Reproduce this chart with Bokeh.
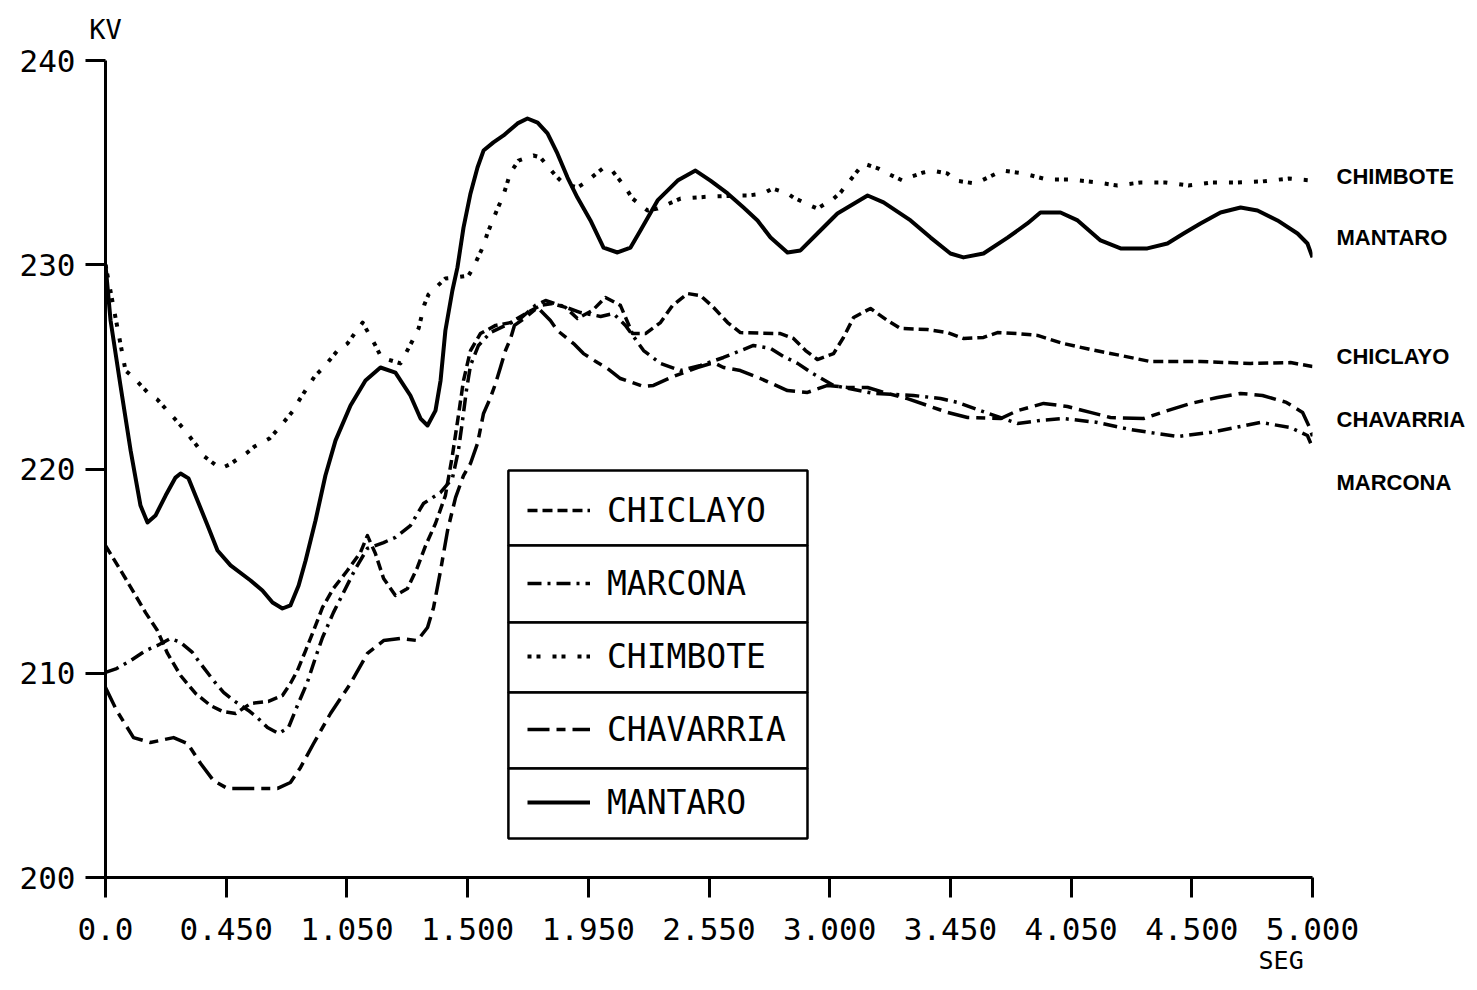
from bokeh.plotting import figure
from bokeh.models import Range1d, FixedTicker, LinearAxis, Legend, LegendItem, BoxAnnotation
from bokeh.embed import file_html
from bokeh.resources import INLINE

# ---------------- data (seconds, kV) ----------------
t_mantaro = [0.0, 0.021, 0.062, 0.104, 0.145, 0.174, 0.207, 0.249, 0.290, 0.311, 0.344, 0.381, 0.423, 0.464,
             0.518, 0.601, 0.650, 0.692, 0.733, 0.766, 0.800, 0.829, 0.870, 0.911, 0.953, 1.015, 1.077, 1.139,
             1.201, 1.263, 1.305, 1.334, 1.367, 1.388, 1.408, 1.437, 1.458, 1.483, 1.512, 1.541, 1.566, 1.607,
             1.649, 1.707, 1.748, 1.790, 1.831, 1.872, 1.914, 1.955, 2.009, 2.063, 2.121, 2.175, 2.216, 2.287,
             2.370, 2.444, 2.506, 2.577, 2.643, 2.701, 2.755, 2.825, 2.879, 2.949, 3.032, 3.157, 3.223, 3.335,
             3.418, 3.500, 3.554, 3.637, 3.737, 3.819, 3.873, 3.956, 4.027, 4.122, 4.205, 4.316, 4.399, 4.466,
             4.536, 4.619, 4.702, 4.772, 4.855, 4.938, 4.979, 5.0]
kv_mantaro = [230.0, 227.27, 224.09, 220.91, 218.21, 217.38, 217.72, 218.70, 219.58, 219.78, 219.54, 218.46,
              217.23, 216.01, 215.28, 214.54, 214.05, 213.46, 213.17, 213.32, 214.30, 215.52, 217.48, 219.68,
              221.40, 223.11, 224.33, 224.97, 224.72, 223.60, 222.47, 222.13, 222.86, 224.33, 226.78, 228.74,
              229.87, 231.82, 233.49, 234.76, 235.59, 235.99, 236.33, 236.92, 237.16, 236.96, 236.43, 235.45,
              234.27, 233.29, 232.17, 230.84, 230.60, 230.84, 231.68, 233.15, 234.12, 234.61, 234.12, 233.49,
              232.80, 232.17, 231.33, 230.60, 230.70, 231.53, 232.51, 233.39, 233.05, 232.17, 231.33, 230.55,
              230.36, 230.55, 231.33, 232.02, 232.56, 232.56, 232.17, 231.19, 230.80, 230.80, 231.04, 231.53,
              232.02, 232.56, 232.80, 232.66, 232.17, 231.53, 231.04, 230.36]

t_chimbote = [0.0, 0.083, 0.116, 0.178, 0.215, 0.282, 0.319, 0.381, 0.410, 0.476, 0.514, 0.588, 0.617, 0.679,
              0.713, 0.775, 0.804, 0.866, 0.903, 0.965, 1.002, 1.065, 1.118, 1.143, 1.222, 1.272, 1.297, 1.321,
              1.338, 1.408, 1.450, 1.504, 1.524, 1.566, 1.582, 1.624, 1.645, 1.678, 1.711, 1.773, 1.802, 1.864,
              1.897, 1.955, 1.988, 2.059, 2.092, 2.154, 2.183, 2.245, 2.287, 2.382, 2.506, 2.639, 2.664, 2.726,
              2.763, 2.825, 2.850, 2.920, 2.949, 3.016, 3.045, 3.107, 3.140, 3.202, 3.239, 3.302, 3.326, 3.389,
              3.426, 3.488, 3.521, 3.604, 3.716, 3.803, 3.902, 3.997, 4.109, 4.192, 4.288, 4.391, 4.486, 4.586,
              4.689, 4.793, 4.901, 5.0]
kv_chimbote = [230.0, 224.82, 224.48, 223.70, 223.40, 222.52, 222.03, 221.10, 220.61, 220.02, 220.22, 220.81,
               221.10, 221.49, 221.93, 222.82, 223.40, 224.53, 224.97, 225.85, 226.14, 227.17, 226.05, 225.46,
               225.17, 226.29, 226.88, 228.05, 228.54, 229.33, 229.38, 229.47, 229.87, 230.94, 231.53, 232.75,
               233.29, 234.52, 235.10, 235.35, 235.25, 234.37, 233.98, 233.78, 234.03, 234.71, 234.71, 233.78,
               233.24, 232.66, 232.75, 233.24, 233.34, 233.39, 233.39, 233.49, 233.73, 233.49, 233.29, 232.90,
               232.75, 233.24, 233.54, 234.47, 234.96, 234.71, 234.47, 234.12, 234.27, 234.52, 234.61, 234.47,
               234.12, 233.98, 234.61, 234.47, 234.17, 234.17, 234.03, 233.88, 234.03, 234.03, 233.88, 234.03,
               234.03, 234.08, 234.22, 234.12]

t_chiclayo = [0.0, 0.083, 0.166, 0.215, 0.257, 0.311, 0.373, 0.435, 0.485, 0.539, 0.601, 0.675, 0.733, 0.766,
              0.795, 0.829, 0.862, 0.899, 0.944, 1.002, 1.056, 1.085, 1.118, 1.152, 1.201, 1.251, 1.292, 1.326,
              1.367, 1.408, 1.437, 1.462, 1.483, 1.512, 1.553, 1.616, 1.678, 1.748, 1.802, 1.852, 1.906, 1.955,
              2.017, 2.071, 2.133, 2.183, 2.237, 2.299, 2.349, 2.411, 2.465, 2.519, 2.577, 2.630, 2.796, 2.850,
              2.900, 2.949, 3.016, 3.057, 3.099, 3.169, 3.239, 3.293, 3.405, 3.488, 3.554, 3.637, 3.695, 3.778,
              3.861, 3.969, 4.080, 4.205, 4.329, 4.536, 4.743, 4.909, 5.0]
kv_chiclayo = [216.25, 214.64, 212.97, 212.09, 210.97, 209.89, 209.01, 208.42, 208.13, 208.03, 208.52, 208.62,
               208.91, 209.50, 210.13, 211.11, 212.09, 213.22, 214.15, 215.03, 215.91, 216.74, 215.86, 214.64,
               213.81, 214.15, 215.18, 216.25, 217.33, 218.70, 220.66, 222.62, 224.33, 225.80, 226.63, 227.03,
               227.17, 227.66, 228.01, 228.10, 227.91, 227.37, 227.76, 228.40, 228.01, 226.63, 226.63, 227.17,
               228.01, 228.59, 228.49, 227.91, 227.17, 226.68, 226.63, 226.39, 225.80, 225.36, 225.65, 226.44,
               227.42, 227.86, 227.27, 226.88, 226.83, 226.68, 226.39, 226.44, 226.68, 226.63, 226.54, 226.14,
               225.85, 225.56, 225.26, 225.26, 225.17, 225.21, 225.02]

t_marcona = [0.0, 0.046, 0.104, 0.166, 0.215, 0.269, 0.311, 0.360, 0.393, 0.447, 0.489, 0.530, 0.592, 0.629,
             0.671, 0.717, 0.758, 0.795, 0.836, 0.870, 0.899, 0.944, 0.986, 1.036, 1.085, 1.152, 1.201, 1.263,
             1.317, 1.388, 1.437, 1.462, 1.479, 1.495, 1.512, 1.545, 1.595, 1.657, 1.719, 1.781, 1.823, 1.885,
             1.968, 2.051, 2.104, 2.154, 2.229, 2.299, 2.382, 2.465, 2.560, 2.684, 2.755, 2.809, 2.867, 2.929,
             3.016, 3.181, 3.347, 3.459, 3.529, 3.645, 3.778, 3.873, 3.969, 4.109, 4.246, 4.441, 4.577, 4.785,
             4.909, 4.979, 5.0]
kv_marcona = [210.04, 210.23, 210.62, 211.11, 211.36, 211.70, 211.51, 211.02, 210.48, 209.65, 209.06, 208.67,
              208.18, 207.83, 207.34, 207.05, 207.34, 208.42, 209.55, 210.77, 211.75, 212.97, 213.95, 215.13,
              216.11, 216.40, 216.65, 217.23, 218.31, 218.85, 219.54, 220.91, 222.38, 223.84, 225.07, 226.05,
              226.68, 227.03, 227.37, 228.01, 228.25, 228.01, 227.66, 227.47, 227.61, 227.03, 225.80, 225.17,
              224.82, 225.07, 225.46, 226.05, 225.90, 225.51, 225.17, 224.68, 224.09, 223.70, 223.60, 223.45,
              223.26, 222.77, 222.23, 222.38, 222.47, 222.28, 221.93, 221.59, 221.79, 222.28, 222.03, 221.64,
              221.05]

t_chavarria = [0.0, 0.046, 0.116, 0.186, 0.282, 0.340, 0.394, 0.447, 0.505, 0.613, 0.713, 0.766, 0.808, 0.862,
               0.932, 1.015, 1.085, 1.152, 1.222, 1.292, 1.334, 1.359, 1.388, 1.417, 1.450, 1.483, 1.512, 1.541,
               1.566, 1.595, 1.616, 1.636, 1.657, 1.678, 1.694, 1.740, 1.790, 1.843, 1.872, 1.939, 1.980, 2.038,
               2.080, 2.133, 2.229, 2.270, 2.341, 2.452, 2.519, 2.560, 2.630, 2.713, 2.825, 2.908, 2.991, 3.074,
               3.157, 3.239, 3.322, 3.405, 3.488, 3.571, 3.708, 3.778, 3.886, 3.985, 4.080, 4.163, 4.300, 4.399,
               4.495, 4.606, 4.702, 4.793, 4.892, 4.959, 4.988, 5.0]
kv_chavarria = [209.30, 208.18, 206.85, 206.61, 206.85, 206.56, 205.58, 204.75, 204.36, 204.36, 204.36, 204.65,
                205.39, 206.56, 208.03, 209.50, 210.97, 211.60, 211.70, 211.60, 212.24, 213.22, 215.03, 216.99,
                218.60, 219.68, 220.27, 221.25, 222.72, 223.50, 224.19, 224.97, 225.80, 226.39, 227.03, 227.42,
                227.91, 227.27, 226.78, 226.14, 225.65, 225.21, 224.92, 224.43, 224.04, 224.09, 224.48, 224.97,
                225.21, 224.97, 224.82, 224.43, 223.84, 223.75, 224.09, 223.99, 223.99, 223.70, 223.45, 223.11,
                222.77, 222.52, 222.47, 222.86, 223.21, 223.06, 222.77, 222.52, 222.47, 222.86, 223.21, 223.50,
                223.70, 223.60, 223.26, 222.77, 222.03, 221.60]

x_ticks = [0.0, 0.5, 1.0, 1.5, 2.0, 2.5, 3.0, 3.5, 4.0, 4.5, 5.0]
x_tick_labels = ["0.0", "0.450", "1.050", "1.500", "1.950", "2.550", "3.000", "3.450", "4.050", "4.500", "5.000"]
y_ticks = [200, 210, 220, 230, 240]

legend_names = ["CHICLAYO", "MARCONA", "CHIMBOTE", "CHAVARRIA", "MANTARO"]
end_names = ["CHIMBOTE", "MANTARO", "CHICLAYO", "CHAVARRIA", "MARCONA"]
end_label_kv = [234.3, 231.35, 225.5, 222.4, 219.35]
kv_unit_t = 0.0
seg_unit_t = 4.87

# legend frame (data coordinates of the boxed rows)
legend_t = (1.669, 2.908)
legend_rows_kv = [219.93, 216.25, 212.48, 209.06, 205.34, 201.91]

# ---------------- figure ----------------
p = figure(width=1470, height=988, output_backend="svg", toolbar_location=None,
           x_range=Range1d(0, 5.0), y_range=Range1d(200, 240),
           min_border_left=105, min_border_right=158, min_border_top=60, min_border_bottom=111)
p.outline_line_color = None
p.xgrid.visible = False
p.ygrid.visible = False
p.background_fill_color = "white"
p.border_fill_color = "white"

mono = "DejaVu Sans Mono"
for ax in (p.xaxis[0], p.yaxis[0]):
    ax.axis_line_width = 3
    ax.axis_line_color = "black"
    ax.major_tick_line_width = 3
    ax.major_tick_line_color = "black"
    ax.major_tick_out = 20
    ax.major_tick_in = 0
    ax.minor_tick_line_color = None
    ax.major_label_text_font = mono
    ax.major_label_text_font_size = "31px"
    ax.major_label_text_color = "black"

p.xaxis[0].ticker = FixedTicker(ticks=x_ticks)
p.xaxis[0].major_label_overrides = {t: s for t, s in zip(x_ticks, x_tick_labels)}
p.xaxis[0].major_label_standoff = 20
p.yaxis[0].ticker = FixedTicker(ticks=y_ticks)
p.yaxis[0].major_label_standoff = 10


def text_axis(ticks, labels, font, size, style, standoff):
    return LinearAxis(ticker=FixedTicker(ticks=ticks),
                      major_label_overrides={t: s for t, s in zip(ticks, labels)},
                      axis_line_color=None, major_tick_line_color=None, minor_tick_line_color=None,
                      major_tick_out=0, major_tick_in=0, major_label_standoff=standoff,
                      major_label_text_font=font, major_label_text_font_size=size,
                      major_label_text_font_style=style, major_label_text_color="black")


# unit labels and station names beside the curve ends
p.add_layout(text_axis([kv_unit_t], ["KV"], mono, "27px", "normal", 16), "above")
p.add_layout(text_axis([seg_unit_t], ["SEG"], mono, "25px", "normal", 3), "below")
p.add_layout(text_axis(end_label_kv, end_names, "Liberation Sans", "22px", "bold", 24), "right")

common = dict(line_color="black", line_join="round")
r_chiclayo = p.line(t_chiclayo, kv_chiclayo, line_width=3.5, line_dash="10 5", **common)
r_marcona = p.line(t_marcona, kv_marcona, line_width=3.5, line_dash="14 6 3 6", **common)
r_chimbote = p.line(t_chimbote, kv_chimbote, line_width=4, line_dash="4 5 4 12", **common)
r_chavarria = p.line(t_chavarria, kv_chavarria, line_width=3.5, line_dash="22 7 9 7", **common)
r_mantaro = p.line(t_mantaro, kv_mantaro, line_width=4, **common)

# boxed legend rows
for top, bottom in zip(legend_rows_kv[:-1], legend_rows_kv[1:]):
    p.add_layout(BoxAnnotation(left=legend_t[0], right=legend_t[1], top=top, bottom=bottom,
                               fill_color="white", fill_alpha=1.0, line_color="black", line_alpha=1.0,
                               line_width=2.5, level="overlay"))

items = [LegendItem(label=n, renderers=[r]) for n, r in
         zip(legend_names, [r_chiclayo, r_marcona, r_chimbote, r_chavarria, r_mantaro])]
legend = Legend(items=items, location=(422, 43), orientation="vertical",
                label_text_font=mono, label_text_font_size="33px", label_text_color="black",
                glyph_width=63, glyph_height=20, label_height=64, spacing=9, padding=0,
                label_standoff=17, margin=0, border_line_color=None,
                background_fill_alpha=0.0, level="overlay")
p.add_layout(legend, "center")

open("out.html", "w").write(file_html(p, INLINE))
